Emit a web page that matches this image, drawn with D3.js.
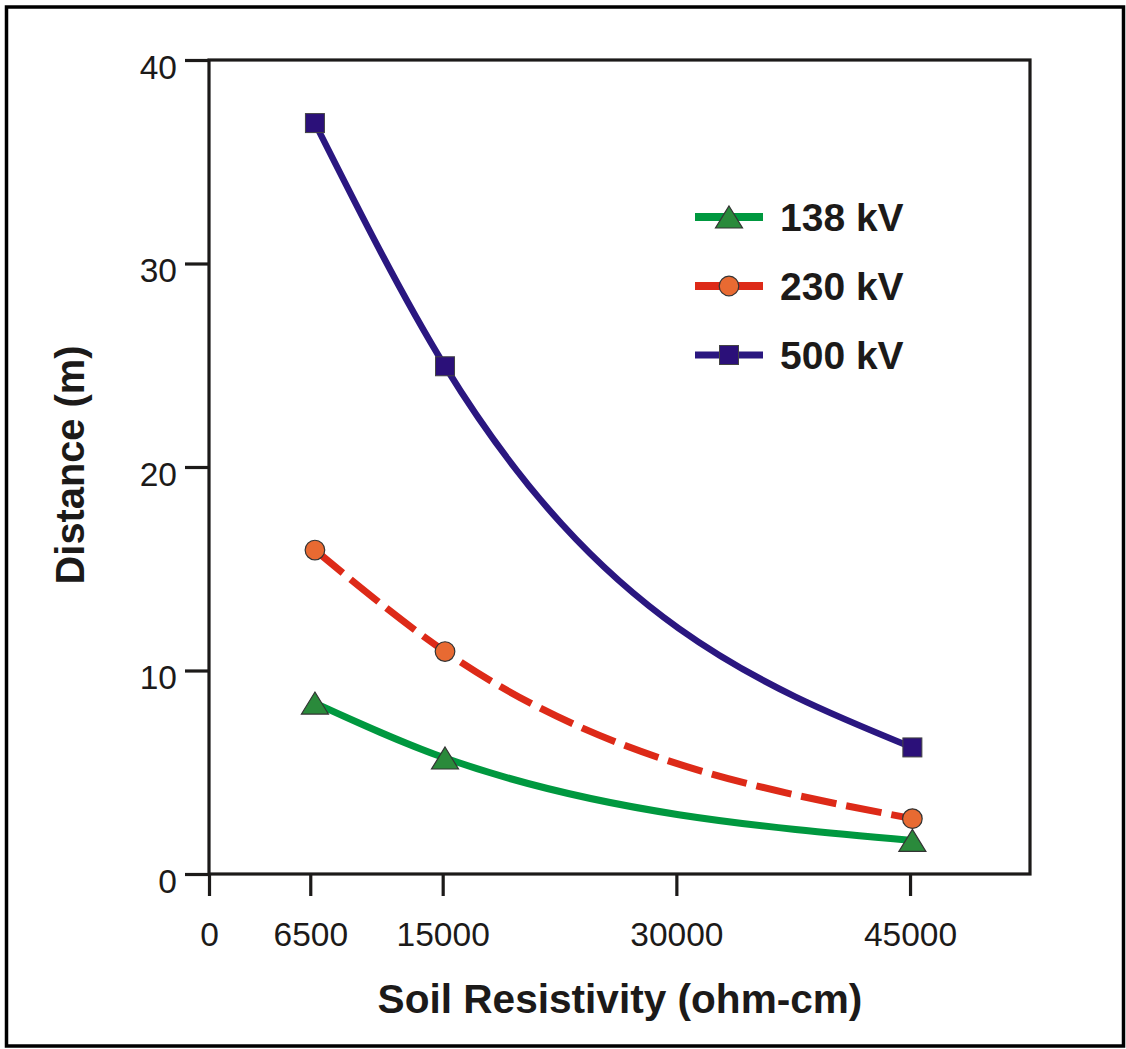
<!DOCTYPE html>
<html>
<head>
<meta charset="utf-8">
<script src="https://cdn.jsdelivr.net/npm/d3@7"></script>
<style>
  html, body { margin: 0; padding: 0; background: #fff; }
  svg { display: block; }
  text { font-family: "Liberation Sans", Arial, Helvetica, sans-serif; fill: #1c1a19; }
</style>
</head>
<body>
<svg id="chart" width="1126" height="1049"></svg>
<script>
// ---- data ----
const xTickValues = [0, 6500, 15000, 30000, 45000];
const yTickValues = [0, 10, 20, 30, 40];
const resistivity = [6800, 15150, 45150];
const series138 = [8.4, 5.7, 1.65];
const series230 = [15.92, 10.93, 2.72];
const series500 = [36.9, 24.95, 6.22];
const seriesNames = ["138 kV", "230 kV", "500 kV"];

// ---- layout ----
const svg = d3.select("#chart");
const L = 209, R = 1030, T = 60, B = 874;
const x = d3.scaleLinear().domain([0, 52700]).range([L, R]);
const y = d3.scaleLinear().domain([0, 40]).range([B, T]);
const ink = "#1c1a19";

// outer border
svg.append("rect").attr("x", 6.5).attr("y", 7).attr("width", 1117).attr("height", 1039)
  .attr("fill", "none").attr("stroke", "#000").attr("stroke-width", 3.5);

// plot frame
svg.append("rect").attr("x", L).attr("y", T).attr("width", R - L).attr("height", B - T)
  .attr("fill", "none").attr("stroke", ink).attr("stroke-width", 3.2);

// x axis
const xAxis = svg.append("g").attr("transform", `translate(0,${B})`)
  .call(d3.axisBottom(x).tickValues(xTickValues).tickSize(22).tickPadding(50).tickFormat(d3.format("d")));
xAxis.select(".domain").remove();
xAxis.selectAll(".tick line").attr("stroke", ink).attr("stroke-width", 3.2);
xAxis.selectAll(".tick text").attr("font-size", 33.5).attr("dy", 0).attr("y", 72)
  .attr("fill", ink).style("font-family", "'Liberation Sans', Arial, sans-serif");

// y axis
const yAxis = svg.append("g").attr("transform", `translate(${L},0)`)
  .call(d3.axisLeft(y).tickValues(yTickValues).tickSize(24).tickPadding(8).tickFormat(d3.format("d")));
yAxis.select(".domain").remove();
yAxis.selectAll(".tick line").attr("stroke", ink).attr("stroke-width", 3.2);
yAxis.selectAll(".tick text").attr("font-size", 33.5).attr("x", -32).attr("dy", 18)
  .attr("fill", ink).style("font-family", "'Liberation Sans', Arial, sans-serif");

// axis titles
svg.append("text").attr("x", 620).attr("y", 1013).attr("text-anchor", "middle")
  .attr("font-size", 40.6).attr("font-weight", "bold").text("Soil Resistivity (ohm-cm)");
svg.append("text").attr("transform", "translate(84,465) rotate(-90)").attr("text-anchor", "middle")
  .attr("font-size", 39.8).attr("font-weight", "bold").text("Distance (m)");

// ---- series ----
const line = d3.line().x(d => x(d[0])).y(d => y(d[1])).curve(d3.curveMonotoneX);
const pts = vals => resistivity.map((r, i) => [r, vals[i]]);

const styles = [
  { vals: series138, color: "#00983f", fill: "#2a8a3b", dash: null, shape: "tri" },
  { vals: series230, color: "#dd2a18", fill: "#e86a32", dash: "36,10", shape: "circ" },
  { vals: series500, color: "#2a1780", fill: "#2b1079", dash: null, shape: "sq" }
];

function drawMarker(g, shape, fill, cx, cy) {
  if (shape === "tri") {
    const w = 27, h = 22;
    g.append("path")
      .attr("d", `M${cx},${cy - h / 2}L${cx + w / 2},${cy + h / 2}L${cx - w / 2},${cy + h / 2}Z`)
      .attr("fill", fill).attr("stroke", "#333").attr("stroke-width", 1.2);
  } else if (shape === "circ") {
    g.append("circle").attr("cx", cx).attr("cy", cy).attr("r", 9.8)
      .attr("fill", fill).attr("stroke", "#333").attr("stroke-width", 1.2);
  } else {
    const s = 19;
    g.append("rect").attr("x", cx - s / 2).attr("y", cy - s / 2).attr("width", s).attr("height", s)
      .attr("fill", fill).attr("stroke", "#444").attr("stroke-width", 1);
  }
}

// lines
styles.slice().reverse().forEach(s => {
  svg.append("path").datum(pts(s.vals)).attr("d", line)
    .attr("fill", "none").attr("stroke", s.color)
    .attr("stroke-width", s.shape === "sq" ? 6.5 : 7)
    .attr("stroke-dasharray", s.dash);
});
// markers
styles.slice().reverse().forEach(s => {
  const g = svg.append("g");
  pts(s.vals).forEach(p => drawMarker(g, s.shape, s.fill, x(p[0]), y(p[1])));
});

// ---- legend ----
const legendY = [217, 286, 355];
styles.forEach((s, i) => {
  const g = svg.append("g");
  g.append("line").attr("x1", 695).attr("x2", 763).attr("y1", legendY[i]).attr("y2", legendY[i])
    .attr("stroke", s.color).attr("stroke-width", s.shape === "sq" ? 7 : 8);
  drawMarker(g, s.shape, s.fill, 729, legendY[i]);
  g.append("text").attr("x", 780).attr("y", legendY[i] + 13.5)
    .attr("font-size", 39).attr("font-weight", "bold").text(seriesNames[i]);
});
</script>
</body>
</html>
